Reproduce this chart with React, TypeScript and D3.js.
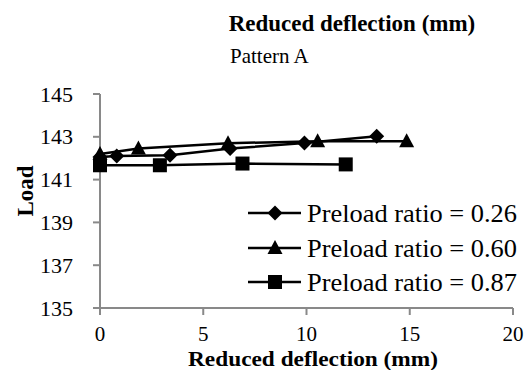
import React from "react";
import * as d3 from "d3";

const seriesNames = ["Preload ratio = 0.26", "Preload ratio = 0.60", "Preload ratio = 0.87"];
const markers = ["diamond", "triangle", "square"];
const s1x = [0, 0.81, 3.39, 6.3, 9.9, 13.4];
const s1y = [142.06, 142.1, 142.14, 142.45, 142.71, 143.03];
const s2x = [0, 1.86, 6.2, 10.54, 14.85];
const s2y = [142.2, 142.45, 142.7, 142.79, 142.79];
const s3x = [0, 2.9, 6.9, 11.9];
const s3y = [141.67, 141.67, 141.75, 141.71];
const xTicks = [0, 5, 10, 15, 20];
const yTicks = [135, 137, 139, 141, 143, 145];

const W = 526, H = 370;
const FONT = `"Liberation Serif", "Times New Roman", "Tinos", serif`;
const AXIS = "#898989";

function Marker({ type, x, y }: { type: string; x: number; y: number }) {
  if (type === "diamond") {
    const r = 7.5;
    return <path d={`M${x},${y - r}L${x + r},${y}L${x},${y + r}L${x - r},${y}Z`} fill="#000" />;
  }
  if (type === "triangle") {
    return <path d={`M${x},${y - 8}L${x + 7.5},${y + 6}L${x - 7.5},${y + 6}Z`} fill="#000" />;
  }
  return <rect x={x - 7} y={y - 7} width={14} height={14} fill="#000" />;
}

export default function App() {
  const x = d3.scaleLinear().domain([0, 20]).range([100, 513]);
  const y = d3.scaleLinear().domain([135, 145]).range([308, 94]);
  const series = [
    s1x.map((v, i) => [v, s1y[i]]),
    s2x.map((v, i) => [v, s2y[i]]),
    s3x.map((v, i) => [v, s3y[i]]),
  ];
  const line = d3.line<number[]>().x((d) => x(d[0])).y((d) => y(d[1]));
  const legendY = [213, 248, 282];
  const ts = { fontFamily: FONT };

  return (
    <svg width={W} height={H} style={{ position: "absolute", left: 0, top: 0, background: "#fff" }}>
      <text style={ts} x={352} y={31} textAnchor="middle" fontWeight="bold" fontSize={23}>Reduced deflection (mm)</text>
      <text style={ts} x={230} y={63} fontSize={21}>Pattern A</text>

      {/* axes */}
      <line x1={x(0)} x2={x(0)} y1={y(145)} y2={y(135) + 7} stroke={AXIS} strokeWidth={2} />
      <line x1={x(0) - 7} x2={x(20)} y1={y(135)} y2={y(135)} stroke={AXIS} strokeWidth={2} />
      {yTicks.map((t) => (
        <g key={"y" + t}>
          <line x1={x(0) - 7} x2={x(0)} y1={y(t)} y2={y(t)} stroke={AXIS} strokeWidth={2} />
          <text style={ts} x={73} y={y(t) + 7.5} textAnchor="end" fontSize={22}>{t}</text>
        </g>
      ))}
      {xTicks.map((t) => (
        <g key={"x" + t}>
          <line x1={x(t)} x2={x(t)} y1={y(135)} y2={y(135) + 7} stroke={AXIS} strokeWidth={2} />
          <text style={ts} x={x(t)} y={341} textAnchor="middle" fontSize={21}>{t}</text>
        </g>
      ))}
      <text style={ts} x={313} y={366} textAnchor="middle" fontWeight="bold" fontSize={22} textLength={250} lengthAdjust="spacingAndGlyphs">Reduced deflection (mm)</text>
      <text style={ts} transform="translate(33,191) rotate(-90)" textAnchor="middle" fontWeight="bold" fontSize={23}>Load</text>

      {/* series */}
      {series.map((s, i) => (
        <g key={"s" + i}>
          <path d={line(s) || ""} fill="none" stroke="#000" strokeWidth={2.5} />
          {s.map((p, j) => (
            <Marker key={j} type={markers[i]} x={x(p[0])} y={y(p[1])} />
          ))}
        </g>
      ))}

      {/* legend */}
      {seriesNames.map((n, i) => (
        <g key={"l" + i}>
          <line x1={248} x2={301} y1={legendY[i]} y2={legendY[i]} stroke="#000" strokeWidth={2.5} />
          <Marker type={markers[i]} x={275} y={legendY[i]} />
          <text style={ts} x={307} y={legendY[i] + 8.5} fontSize={25} textLength={210} lengthAdjust="spacingAndGlyphs">{n}</text>
        </g>
      ))}
    </svg>
  );
}
